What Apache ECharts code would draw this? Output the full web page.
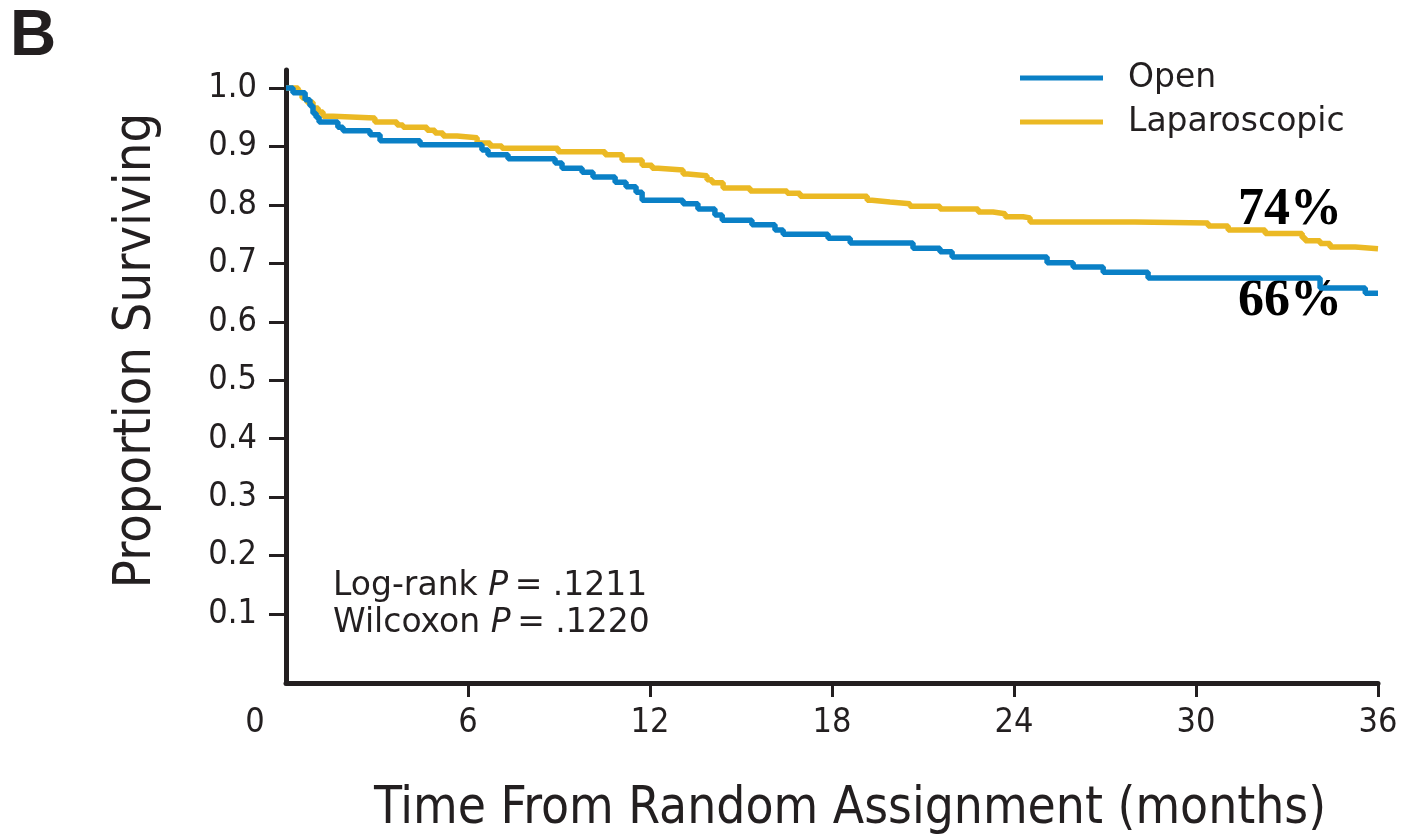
<!DOCTYPE html>
<html>
<head>
<meta charset="utf-8">
<style>
  html, body { margin: 0; padding: 0; background: #ffffff; }
  #chart { width: 1404px; height: 838px; }
</style>
<script src="https://cdn.jsdelivr.net/npm/echarts@6/dist/echarts.min.js"></script>
</head>
<body>
<div id="chart"></div>
<script>
// Kaplan-Meier step estimates: event times (months) and survival after each drop
const openTimes = [0, 0.23, 0.63, 0.79, 0.89, 0.99, 1.09, 1.71, 1.88, 2.77, 3.10, 4.42, 6.46, 6.66, 7.32,
  8.87, 9.10, 9.76, 10.12, 10.85, 11.21, 11.54, 11.74, 13.09, 13.58, 14.14, 14.38, 15.36, 16.12, 16.39,
  17.87, 18.60, 20.67, 21.56, 21.96, 25.09, 25.95, 26.94, 28.42, 34.09, 35.58, 36];
const openSurv = [1.0, 0.992, 0.980, 0.970, 0.957, 0.950, 0.942, 0.933, 0.927, 0.920, 0.910, 0.903, 0.894, 0.886, 0.879,
  0.872, 0.863, 0.856, 0.848, 0.839, 0.831, 0.822, 0.808, 0.802, 0.793, 0.783, 0.774, 0.766, 0.757, 0.750,
  0.743, 0.735, 0.726, 0.720, 0.711, 0.701, 0.694, 0.685, 0.675, 0.658, 0.649, 0.649];

const lapTimes = [0, 0.40, 0.53, 0.69, 0.89, 1.06, 1.22, 1.55, 2.93, 3.66, 3.86, 4.65, 4.91, 5.18, 5.64,
  6.30, 6.73, 7.12, 8.97, 10.52, 11.08, 11.74, 12.07, 12.27, 13.09, 13.25, 13.88, 14.05, 14.41, 15.30,
  16.52, 16.95, 19.16, 19.32, 19.91, 20.57, 21.56, 22.82, 23.31, 23.71, 24.30, 24.53, 27.99, 30.40,
  31.06, 32.28, 33.50, 33.60, 34.09, 34.42, 35.25, 36];
const lapSurv = [1.0, 0.993, 0.983, 0.976, 0.966, 0.959, 0.952, 0.949, 0.942, 0.937, 0.933, 0.928, 0.923, 0.918, 0.915,
  0.906, 0.901, 0.897, 0.891, 0.886, 0.877, 0.868, 0.863, 0.860, 0.853, 0.850, 0.843, 0.838, 0.829, 0.824,
  0.820, 0.815, 0.808, 0.805, 0.802, 0.798, 0.793, 0.788, 0.785, 0.780, 0.778, 0.771, 0.769, 0.764,
  0.757, 0.751, 0.744, 0.739, 0.734, 0.728, 0.725, 0.725];

const seriesNames = ['Open', 'Laparoscopic'];
const xTicks = [0, 6, 12, 18, 24, 30, 36];
const yTicks = [0.1, 0.2, 0.3, 0.4, 0.5, 0.6, 0.7, 0.8, 0.9, 1.0];

const INK = '#231f20';
const BLUE = '#0a80c6';
const GOLD = '#ebb924';
const SANS = '"DejaVu Sans", sans-serif';
const COND = '"DejaVu Sans Condensed", "DejaVu Sans", sans-serif';

const pairs = (ts, vs) => ts.map((t, i) => [t, vs[i]]);

const chart = echarts.init(document.getElementById('chart'), null, { renderer: 'canvas' });

chart.setOption({
  animation: false,
  backgroundColor: '#ffffff',
  grid: {
    left: 286, right: 26, top: 70, bottom: 155,
    containLabel: false, outerBoundsMode: 'none'
  },
  legend: {
    orient: 'vertical',
    left: 1020, top: 61,
    padding: 0,
    data: seriesNames,
    icon: 'rect',
    itemWidth: 83, itemHeight: 5,
    itemGap: 10,
    textStyle: { fontFamily: SANS, fontSize: 33, color: INK, lineHeight: 34, padding: [0, 0, 0, 20] }
  },
  xAxis: {
    type: 'value',
    min: 0, max: 36, interval: 6,
    name: 'Time From Random Assignment (months)',
    nameLocation: 'middle',
    nameGap: 101,
    nameTextStyle: { fontFamily: COND, fontSize: 51, color: INK, padding: [0, 0, 0, 36] },
    splitLine: { show: false },
    axisLine: { show: true, onZero: false, lineStyle: { color: INK, width: 5 } },
    axisTick: { show: true, customValues: xTicks.slice(1), length: 14, lineStyle: { color: INK, width: 3 } },
    axisLabel: {
      customValues: xTicks,
      margin: 23,
      fontFamily: COND, fontSize: 34, color: INK,
      formatter: v => v === 0 ? '{z|0}' : String(v),
      rich: { z: { fontFamily: COND, fontSize: 34, color: INK, padding: [0, 62, 0, 0] } }
    }
  },
  yAxis: {
    type: 'value',
    min: -0.018, max: 1.031,
    name: 'Proportion Surviving',
    nameLocation: 'middle',
    nameGap: 124,
    nameTextStyle: { fontFamily: COND, fontSize: 52, color: INK, padding: [0, 0, 0, 52] },
    splitLine: { show: false },
    axisLine: { show: true, onZero: false, lineStyle: { color: INK, width: 5 } },
    axisTick: { show: true, customValues: yTicks, length: 17, lineStyle: { color: INK, width: 3 } },
    axisLabel: {
      customValues: yTicks,
      margin: 29,
      fontFamily: COND, fontSize: 34, color: INK,
      formatter: v => v.toFixed(1)
    }
  },
  series: [
    {
      name: 'Laparoscopic', type: 'line', step: 'end', showSymbol: false, z: 2,
      data: pairs(lapTimes, lapSurv),
      itemStyle: { color: GOLD },
      lineStyle: { color: GOLD, width: 5.5 }
    },
    {
      name: 'Open', type: 'line', step: 'end', showSymbol: false, z: 3,
      data: pairs(openTimes, openSurv),
      itemStyle: { color: BLUE },
      lineStyle: { color: BLUE, width: 5.5 }
    }
  ],
  graphic: [
    { type: 'text', x: 10, y: 37, style: { text: 'B', font: 'bold 64px "Liberation Sans", sans-serif', fill: INK, verticalAlign: 'middle' } },
    { type: 'text', x: 333, y: 586, style: {
        text: 'Log-rank {i|P}\u2009= .1211', font: '33px ' + SANS, fill: INK, verticalAlign: 'middle',
        rich: { i: { fontStyle: 'italic', fontFamily: SANS, fontSize: 33, fill: INK } } } },
    { type: 'text', x: 333, y: 623, style: {
        text: 'Wilcoxon {i|P}\u2009= .1220', font: '33px ' + SANS, fill: INK, verticalAlign: 'middle',
        rich: { i: { fontStyle: 'italic', fontFamily: SANS, fontSize: 33, fill: INK } } } },
    { type: 'text', x: 1290, y: 211, style: { text: '74%', font: 'bold 52px "Liberation Serif", serif', fill: '#000', align: 'center', verticalAlign: 'middle' } },
    { type: 'text', x: 1290, y: 302, style: { text: '66%', font: 'bold 52px "Liberation Serif", serif', fill: '#000', align: 'center', verticalAlign: 'middle' } }
  ]
});
</script>
</body>
</html>
